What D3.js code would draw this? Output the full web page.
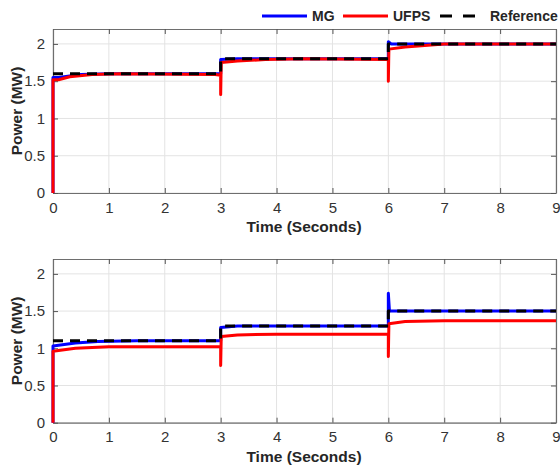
<!DOCTYPE html>
<html>
<head>
<meta charset="utf-8">
<script src="https://cdn.jsdelivr.net/npm/d3@7"></script>
<style>
  html, body { margin: 0; padding: 0; background: #fff; }
  svg { display: block; }
  text { font-family: "Liberation Sans", Arial, Helvetica, sans-serif; }
</style>
</head>
<body>
<svg id="chart" width="560" height="466"></svg>
<script>
// Power response of the microgrid (MG) and the UFPS against the reference, two cases.
const seriesNames = ["MG", "UFPS", "Reference"];
const seriesColors = ["#0000ff", "#ff0000", "#000000"];
const xTicks = [0, 1, 2, 3, 4, 5, 6, 7, 8, 9];
const yTicks = [0, 0.5, 1, 1.5, 2];

// Upper panel: [time (s), power (MW)]
const topMG = [[0,0],[0,1.55],[0.1,1.55],[0.5,1.59],[1,1.6],[3,1.6],[3,1.79],[3.3,1.8],[6,1.8],[6,2.03],[6.05,2.0],[9,2.0]];
const topUFPS = [[0,0],[0,1.52],[0.1,1.52],[0.3,1.56],[0.7,1.59],[1.2,1.6],[2.9,1.59],[3,1.58],[3,1.32],[3.01,1.75],[3.3,1.77],[3.8,1.79],[4.5,1.8],[6,1.79],[6,1.5],[6.01,1.93],[6.3,1.96],[7,2.0],[9,2.0]];
const topRef = [[0,1.6],[3,1.6],[3,1.8],[6,1.8],[6,2.0],[9,2.0]];

// Lower panel
const botMG = [[0,0],[0,1.03],[0.1,1.04],[0.4,1.07],[0.8,1.09],[1.5,1.1],[3,1.1],[3,1.28],[3.3,1.3],[6,1.3],[6,1.74],[6.02,1.5],[9,1.5]];
const botUFPS = [[0,0],[0,0.96],[0.1,0.97],[0.4,1.0],[1,1.02],[2.9,1.02],[3,1.02],[3,0.77],[3.01,1.16],[3.3,1.18],[4,1.19],[6,1.19],[6,0.89],[6.01,1.33],[6.3,1.36],[7,1.37],[9,1.37]];
const botRef = [[0,1.1],[3,1.1],[3,1.3],[6,1.3],[6,1.5],[9,1.5]];

const svg = d3.select("#chart");
const left = 53, right = 556;

function panel(top, bottom, series) {
  const x = d3.scaleLinear().domain([0, 9]).range([left, right]);
  const y = d3.scaleLinear().domain([0, 2.2]).range([bottom, top]);
  const g = svg.append("g");

  // grid
  g.append("g").selectAll("line").data(xTicks).join("line")
    .attr("x1", d => x(d)).attr("x2", d => x(d)).attr("y1", top).attr("y2", bottom)
    .attr("stroke", "#e3e3e3").attr("stroke-width", 1);
  g.append("g").selectAll("line").data(yTicks).join("line")
    .attr("y1", d => y(d)).attr("y2", d => y(d)).attr("x1", left).attr("x2", right)
    .attr("stroke", "#e3e3e3").attr("stroke-width", 1);

  // axes (box with inward ticks on all sides)
  const axB = g.append("g").attr("transform", `translate(0,${bottom})`)
    .call(d3.axisBottom(x).tickValues(xTicks).tickSizeInner(-5).tickSizeOuter(0).tickPadding(9).tickFormat(d3.format("d")));
  const axT = g.append("g").attr("transform", `translate(0,${top})`)
    .call(d3.axisTop(x).tickValues(xTicks).tickSizeInner(-5).tickSizeOuter(0).tickFormat(""));
  const axL = g.append("g").attr("transform", `translate(${left},0)`)
    .call(d3.axisLeft(y).tickValues(yTicks).tickSizeInner(-5).tickSizeOuter(0).tickPadding(8).tickFormat(d => d3.format("")(d)));
  const axR = g.append("g").attr("transform", `translate(${right},0)`)
    .call(d3.axisRight(y).tickValues(yTicks).tickSizeInner(-5).tickSizeOuter(0).tickFormat(""));
  [axB, axT, axL, axR].forEach(a => {
    a.select(".domain").attr("stroke", "#6e6e6e").attr("stroke-width", 1.2);
    a.selectAll(".tick line").attr("stroke", "#555").attr("stroke-width", 1);
    a.selectAll("text").attr("fill", "#333").style("font-size", "15px");
  });

  // data lines
  const line = d3.line().x(d => x(d[0])).y(d => y(d[1]));
  series.forEach((s, i) => {
    g.append("path").datum(s).attr("d", line)
      .attr("fill", "none")
      .attr("stroke", seriesColors[i])
      .attr("stroke-width", 3)
      .attr("stroke-linejoin", "round")
      .attr("stroke-dasharray", i === 2 ? "10,7" : null);
  });

  // axis titles
  g.append("text").attr("x", 304).attr("y", bottom + 39)
    .attr("text-anchor", "middle").attr("font-weight", "bold").attr("fill", "#262626")
    .style("font-size", "15.5px").text("Time (Seconds)");
  g.append("text").attr("transform", `translate(22,${(top + bottom) / 2}) rotate(-90)`)
    .attr("text-anchor", "middle").attr("font-weight", "bold").attr("fill", "#262626")
    .style("font-size", "15.5px").text("Power (MW)");
}

panel(29, 193, [topMG, topUFPS, topRef]);
panel(259, 422.7, [botMG, botUFPS, botRef]);

// legend
const legendItems = [
  { name: seriesNames[0], x1: 262, x2: 307, tx: 312 },
  { name: seriesNames[1], x1: 343, x2: 388, tx: 393 },
  { name: seriesNames[2], x1: 440, x2: 475, tx: 490 }
];
const lg = svg.append("g");
legendItems.forEach((d, i) => {
  lg.append("line").attr("x1", d.x1).attr("x2", d.x2).attr("y1", 16).attr("y2", 16)
    .attr("stroke", seriesColors[i]).attr("stroke-width", 3)
    .attr("stroke-dasharray", i === 2 ? "12,11" : null);
  lg.append("text").attr("x", d.tx).attr("y", 21).attr("font-weight", "bold")
    .attr("fill", "#262626").style("font-size", "14px").text(d.name);
});
</script>
</body>
</html>
